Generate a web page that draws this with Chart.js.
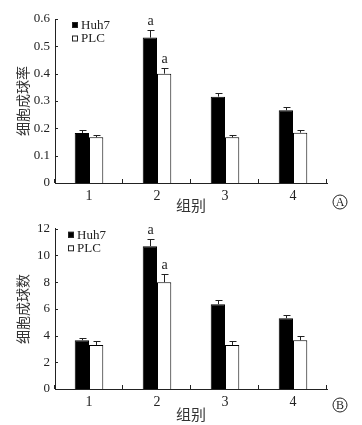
<!DOCTYPE html>
<html lang="zh">
<head>
  <meta charset="UTF-8">
  <title>细胞成球</title>
  <script src="https://cdn.jsdelivr.net/npm/chart.js"></script>
  <style>
    html, body { margin: 0; padding: 0; background: #fff; }
    .box { position: relative; width: 362px; }
    canvas { display: block; }
  </style>
</head>
<body>
  <div class="box" style="height:216px"><canvas id="chartA"></canvas></div>
  <div class="box" style="height:209px"><canvas id="chartB"></canvas></div>

  <script>
    const groups = ["1", "2", "3", "4"];
    const seriesNames = ["Huh7", "PLC"];

    // A: 细胞成球率
    const huh7RateA = [0.183, 0.532, 0.316, 0.266];
    const plcRateA = [0.167, 0.400, 0.167, 0.184];
    const huh7ErrA = [0.010, 0.027, 0.015, 0.012];
    const plcErrA = [0.009, 0.020, 0.008, 0.009];
    const markA = ["", "a", "", ""];

    // B: 细胞成球数
    const huh7CountB = [3.65, 10.7, 6.35, 5.3];
    const plcCountB = [3.3, 8.0, 3.3, 3.65];
    const huh7ErrB = [0.2, 0.55, 0.28, 0.28];
    const plcErrB = [0.28, 0.62, 0.28, 0.3];
    const markB = ["", "a", "", ""];

    const serif = "'Liberation Serif', 'Noto Sans CJK SC', serif";
    const ink = "#222";

    // error bars, 'a' marks, inward ticks, legend and panel letter
    const extras = {
      id: "extras",
      afterDatasetsDraw(chart, args, opts) {
        const ctx = chart.ctx;
        const y = chart.scales.y;
        const area = chart.chartArea;
        ctx.save();
        ctx.strokeStyle = ink;
        ctx.lineWidth = 1;
        chart.data.datasets.forEach((ds, di) => {
          const meta = chart.getDatasetMeta(di);
          meta.data.forEach((bar, i) => {
            const top = Math.round(y.getPixelForValue(ds.data[i] + ds.errors[i]));
            const cx = Math.round(bar.x) + 0.5;
            ctx.beginPath();
            ctx.moveTo(cx, bar.y);
            ctx.lineTo(cx, top);
            ctx.moveTo(cx - 3, top + 0.5);
            ctx.lineTo(cx + 4, top + 0.5);
            ctx.stroke();
            if (ds.marks[i]) {
              ctx.fillStyle = ink;
              ctx.font = "14px " + serif;
              ctx.textAlign = "center";
              ctx.textBaseline = "bottom";
              ctx.fillText(ds.marks[i], cx, top - 2);
            }
          });
        });

        // ticks pointing into the plot
        ctx.beginPath();
        y.ticks.forEach((t, i) => {
          const py = Math.round(y.getPixelForTick(i)) + 0.5;
          ctx.moveTo(area.left, py);
          ctx.lineTo(area.left + 3, py);
        });
        for (let i = 0; i <= groups.length; i++) {
          const px = Math.round(area.left + (area.right - area.left) * i / groups.length) - 0.5;
          ctx.moveTo(px, area.bottom);
          ctx.lineTo(px, area.bottom - 4);
        }
        ctx.stroke();

        // legend inside the plot
        ctx.font = "13px " + serif;
        ctx.textAlign = "left";
        ctx.textBaseline = "middle";
        chart.data.datasets.forEach((ds, di) => {
          const lx = area.left + opts.legendX;
          const ly = area.top + opts.legendY + di * 13.5;
          ctx.fillStyle = ds.backgroundColor;
          ctx.fillRect(lx, ly - 3, 6, 6);
          ctx.strokeRect(lx + 0.5, ly - 2.5, 5, 5);
          ctx.fillStyle = ink;
          ctx.fillText(ds.label, lx + 9, ly + 0.5);
        });

        // panel letter
        ctx.beginPath();
        ctx.arc(opts.letterX, opts.letterY, 7, 0, Math.PI * 2);
        ctx.stroke();
        ctx.font = "12px " + serif;
        ctx.textAlign = "center";
        ctx.fillStyle = ink;
        ctx.fillText(opts.letter, opts.letterX, opts.letterY + 1);
        ctx.restore();
      }
    };

    function makeChart(id, a, b, errA, errB, marks, cfg) {
      return new Chart(document.getElementById(id), {
        type: "bar",
        data: {
          labels: groups,
          datasets: [
            { label: seriesNames[0], data: a, errors: errA, marks: marks,
              backgroundColor: "#000", borderColor: "#000", borderWidth: 1 },
            { label: seriesNames[1], data: b, errors: errB, marks: marks,
              backgroundColor: "#fff", borderColor: "#000", borderWidth: 1 }
          ]
        },
        options: {
          responsive: true,
          maintainAspectRatio: false,
          animation: false,
          layout: { padding: { top: cfg.top, right: 35, left: 0, bottom: 0 } },
          datasets: { bar: { categoryPercentage: 0.42, barPercentage: 1 } },
          plugins: {
            legend: { display: false },
            tooltip: { enabled: false },
            extras: cfg.extras
          },
          scales: {
            x: {
              grid: { display: false, drawTicks: false },
              border: { color: ink, width: 1 },
              ticks: { color: ink, padding: 5, font: { family: serif, size: 14 } },
              title: {
                display: true, text: "组别", color: "#333",
                font: { family: serif, size: 15 },
                padding: { top: 0, bottom: cfg.titleBottom }
              },
              afterFit(s) { s.height = cfg.xHeight; }
            },
            y: {
              min: 0, max: cfg.max,
              grid: { display: false, drawTicks: false },
              border: { color: ink, width: 1 },
              ticks: { stepSize: cfg.step, color: ink, padding: 5, font: { family: serif, size: 13 } },
              title: {
                display: true, text: cfg.yTitle, color: "#333",
                font: { family: serif, size: 14 },
                padding: { top: 16, bottom: 0 }
              },
              afterFit(s) { s.width = 55; }
            }
          }
        },
        plugins: [extras]
      });
    }

    makeChart("chartA", huh7RateA, plcRateA, huh7ErrA, plcErrA, markA, {
      top: 19, max: 0.6, step: 0.1, yTitle: "细胞成球率", xHeight: 33, titleBottom: 0,
      extras: { legendX: 17, legendY: 6, letter: "A", letterX: 340, letterY: 202 }
    });

    makeChart("chartB", huh7CountB, plcCountB, huh7ErrB, plcErrB, markB, {
      top: 9, max: 12, step: 2, yTitle: "细胞成球数", xHeight: 36, titleBottom: 0,
      extras: { legendX: 13, legendY: 6, letter: "B", letterX: 340, letterY: 189 }
    });
  </script>
</body>
</html>
